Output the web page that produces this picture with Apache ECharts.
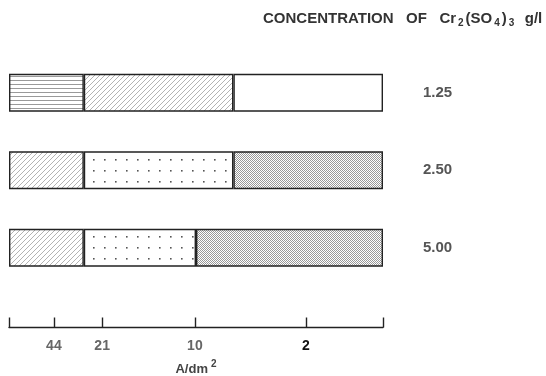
<!DOCTYPE html>
<html>
<head>
<meta charset="utf-8">
<script src="https://cdn.jsdelivr.net/npm/echarts@6/dist/echarts.min.js"></script>
<style>
  html, body { margin: 0; padding: 0; background: #fff; }
  #chart { width: 546px; height: 376px; }
</style>
</head>
<body>
<div id="chart"></div>
<script>
// concentrations (g/l), one bar each, top to bottom
const concentrations = ["1.25", "2.50", "5.00"];
// widths of the three zones along the panel (0..100 = panel length)
const zone1 = [20, 20, 20];
const zone2 = [40, 40, 30];
const zone3 = [40, 40, 50];
// fill of each zone per bar
const zone1Fill = ["hlines", "hatch", "hatch"];
const zone2Fill = ["hatch", "dots", "dots"];
const zone3Fill = ["blank", "dense", "dense"];
// current density scale
const tickPositions = [0, 12, 24.9, 49.7, 79.4, 100];
const tickLabels = ["", "44", "21", "10", "2", ""];

function tile(w, h, draw) {
  const c = document.createElement("canvas");
  c.width = w;
  c.height = h;
  const ctx = c.getContext("2d");
  ctx.fillStyle = "#fff";
  ctx.fillRect(0, 0, w, h);
  draw(ctx);
  return { image: c, repeat: "repeat" };
}

const fills = {
  blank: "#fff",
  hlines: tile(4, 4, (ctx) => {
    ctx.fillStyle = "#999";
    ctx.fillRect(0, 0, 4, 1);
  }),
  hatch: tile(5, 5, (ctx) => {
    ctx.strokeStyle = "#aaa";
    ctx.lineWidth = 0.9;
    ctx.beginPath();
    ctx.moveTo(-1, 6); ctx.lineTo(6, -1);
    ctx.moveTo(-1, 1); ctx.lineTo(1, -1);
    ctx.moveTo(4, 6); ctx.lineTo(6, 4);
    ctx.stroke();
  }),
  dots: tile(11, 11, (ctx) => {
    ctx.fillStyle = "#555";
    ctx.fillRect(5, 5, 1.6, 1.6);
  }),
  dense: tile(2, 2, (ctx) => {
    ctx.fillStyle = "#999";
    ctx.fillRect(0, 0, 1, 1);
    ctx.fillRect(1, 1, 1, 1);
  }),
};

function zoneSeries(name, values, fillNames) {
  return {
    name: name,
    type: "bar",
    stack: "panel",
    barWidth: 38,
    silent: true,
    data: values.map((v, i) => ({
      value: v,
      itemStyle: { color: fills[fillNames[i]] },
    })),
    itemStyle: { borderColor: "#222", borderWidth: 1.4 },
  };
}

const myChart = echarts.init(document.getElementById("chart"));

const option = {
  animation: false,
  textStyle: { fontFamily: "Liberation Sans, Arial, sans-serif" },
  title: {
    text: "CONCENTRATION   OF   Cr{s|2}(SO{s|4}){s|3}  g/l",
    left: 258,
    top: 5,
    textStyle: {
      fontSize: 15,
      fontWeight: "bold",
      color: "#333",
      rich: {
        s: { fontSize: 10, fontWeight: "bold", color: "#333", padding: [8, 2, 0, 2] },
      },
    },
  },
  grid: { left: 9, right: 163, top: 54, height: 232.5, outerBoundsMode: "none", containLabel: false },
  xAxis: {
    type: "value",
    min: 0,
    max: 100,
    offset: 41,
    splitLine: { show: false },
    axisLine: { show: true, lineStyle: { color: "#222", width: 1.4 } },
    axisTick: {
      show: true,
      inside: true,
      length: 10,
      customValues: tickPositions,
      lineStyle: { color: "#222", width: 1.4 },
    },
    axisLabel: {
      customValues: tickPositions,
      formatter: (v) => tickLabels[tickPositions.indexOf(v)],
      color: (v) => (tickLabels[tickPositions.indexOf(Number(v))] === "2" ? "#111" : "#666"),
      fontSize: 14,
      fontWeight: "bold",
      margin: 12,
    },
    name: "A/dm{sup|2}",
    nameLocation: "middle",
    nameGap: 32,
    nameTextStyle: {
      fontSize: 13,
      fontWeight: "bold",
      color: "#444",
      rich: { sup: { fontSize: 10, fontWeight: "bold", color: "#444", padding: [0, 0, 10, 3] } },
    },
  },
  yAxis: {
    type: "category",
    data: concentrations,
    inverse: true,
    position: "right",
    axisLine: { show: false },
    axisTick: { show: false },
    axisLabel: {
      margin: 40,
      align: "left",
      fontSize: 15,
      fontWeight: "bold",
      color: "#555",
    },
  },
  series: [
    zoneSeries("zone 1", zone1, zone1Fill),
    zoneSeries("zone 2", zone2, zone2Fill),
    zoneSeries("zone 3", zone3, zone3Fill),
  ],
};

myChart.setOption(option);
</script>
</body>
</html>
